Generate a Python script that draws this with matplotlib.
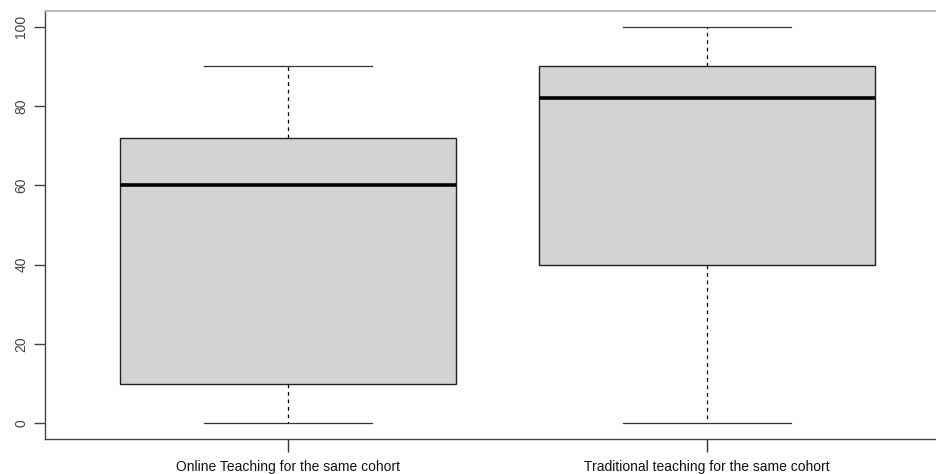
import matplotlib
matplotlib.use("Agg")
import matplotlib.pyplot as plt

plt.rcParams["font.family"] = ["Liberation Sans", "DejaVu Sans"]

CATEGORIES = ["Online Teaching for the same cohort", "Traditional teaching for the same cohort"]
WHISKER_LOW = [0, 0]
Q1 = [10, 40]
MEDIAN = [60, 82]
Q3 = [72, 90]
WHISKER_HIGH = [90, 100]
Y_TICKS = [0, 20, 40, 60, 80, 100]

stats = []
for i, name in enumerate(CATEGORIES):
    stats.append({
        "label": name,
        "whislo": WHISKER_LOW[i],
        "q1": Q1[i],
        "med": MEDIAN[i],
        "q3": Q3[i],
        "whishi": WHISKER_HIGH[i],
        "fliers": [],
    })

fig = plt.figure(figsize=(9.36, 4.74), dpi=100)
ax = fig.add_axes([45 / 936, 1 - 439 / 474, 905 / 936, 428 / 474])

ax.bxp(
    stats,
    positions=[1, 2],
    widths=0.8,
    patch_artist=True,
    showfliers=False,
    boxprops=dict(facecolor="#d3d3d3", edgecolor="#222222", linewidth=1.0),
    medianprops=dict(color="black", linewidth=2.6, solid_capstyle="butt"),
    whiskerprops=dict(color="black", linewidth=0.9, linestyle=(0, (3, 3))),
    capprops=dict(color="#333333", linewidth=0.9),
    capwidths=0.4,
)

ax.set_xlim(0.42, 2.58)
ax.set_ylim(-4, 104)
ax.set_yticks(Y_TICKS)
ax.set_yticklabels([str(v) for v in Y_TICKS], rotation=90, va="center", fontsize=10, color="#444444")
ax.set_xticks([1, 2])
ax.set_xticklabels(CATEGORIES, fontsize=10, color="#111111")
ax.tick_params(axis="y", length=8, width=1, color="#444444", pad=4)
ax.tick_params(axis="x", length=9, width=1, color="#333333", pad=6)

for side in ["left", "bottom"]:
    ax.spines[side].set_color("#444444")
    ax.spines[side].set_linewidth(1.0)
ax.spines["top"].set_color("#bbbbbb")
ax.spines["top"].set_linewidth(1.5)
ax.spines["right"].set_visible(False)

fig.savefig("out.png", dpi=100)
plt.close(fig)
